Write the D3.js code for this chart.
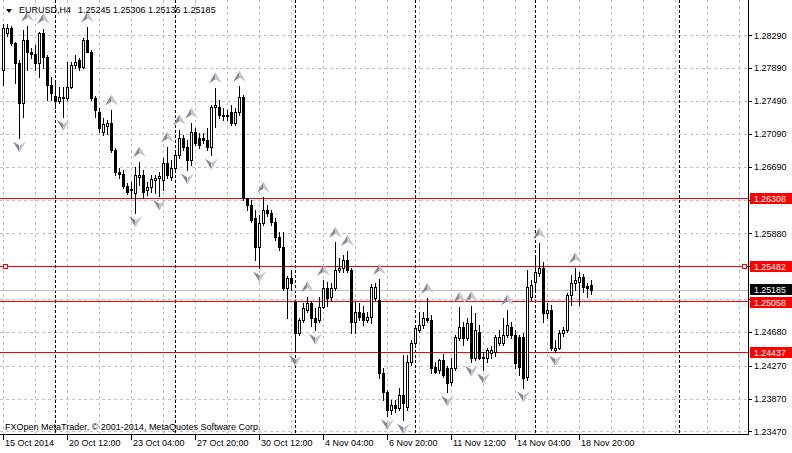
<!DOCTYPE html>
<html><head><meta charset="utf-8">
<script src="https://cdn.jsdelivr.net/npm/d3@7"></script>
<style>body{margin:0;background:#fff}svg{display:block}</style>
</head><body>
<svg id="c" width="792" height="453"></svg>
<script>
const symbol = "EURUSD,H4";
const open = [1.2787,1.2832,1.2838,1.2820,1.2795,1.2747,1.2823,1.2808,1.2806,1.2795,
1.2832,1.2803,1.2769,1.2755,1.2749,1.2754,1.2753,1.2766,1.2793,1.2799,
1.2790,1.2823,1.2809,1.2753,1.2736,1.2711,1.2718,1.2722,1.2689,1.2663,
1.2660,1.2646,1.2641,1.2637,1.2657,1.2659,1.2641,1.2644,1.2653,1.2655,
1.2653,1.2674,1.2657,1.2668,1.2683,1.2704,1.2693,1.2677,1.2711,1.2704,
1.2704,1.2702,1.2693,1.2742,1.2742,1.2732,1.2731,1.2736,1.2722,1.2736,
1.2754,1.2631,1.2622,1.2607,1.2571,1.2601,1.2616,1.2613,1.2602,1.2584,
1.2571,1.2521,1.2534,1.2504,1.2467,1.2483,1.2495,1.2503,1.2485,1.2483,
1.2498,1.2521,1.2511,1.2521,1.2543,1.2546,1.2556,1.2543,1.2480,1.2492,
1.2491,1.2483,1.2486,1.2509,1.2507,1.2418,1.2395,1.2373,1.2379,1.2375,
1.2391,1.2377,1.2431,1.2455,1.2470,1.2476,1.2485,1.2483,1.2425,1.2422,
1.2434,1.2424,1.2407,1.2424,1.2461,1.2474,1.2461,1.2479,1.2436,1.2468,
1.2437,1.2436,1.2442,1.2444,1.2455,1.2455,1.2464,1.2474,1.2464,1.2462,
1.2462,1.2413,1.2511,1.2529,1.2540,1.2546,1.2491,1.2495,1.2446,1.2449,
1.2467,1.2470,1.2513,1.2528,1.2529,1.2535,1.2524,1.25245];
const high = [1.2843,1.2843,1.2840,1.2821,1.2799,1.2835,1.2840,1.2814,1.2817,1.2833,
1.2837,1.2805,1.2778,1.2771,1.2766,1.2766,1.2797,1.2797,1.2805,1.2801,
1.2826,1.2839,1.2811,1.2755,1.2741,1.2728,1.2726,1.2738,1.2692,1.2668,
1.2665,1.2649,1.2651,1.2669,1.2675,1.2665,1.2651,1.2659,1.2659,1.2663,
1.2680,1.2693,1.2677,1.2689,1.2714,1.2708,1.2702,1.2722,1.2716,1.2710,
1.2710,1.2716,1.2744,1.2765,1.2750,1.2741,1.2738,1.2744,1.2741,1.2767,
1.2756,1.2631,1.2629,1.2616,1.2610,1.2632,1.2622,1.2616,1.2607,1.2590,
1.2590,1.2536,1.2543,1.2507,1.2485,1.2503,1.2511,1.2506,1.2497,1.2511,
1.2531,1.2529,1.2528,1.2577,1.2558,1.2562,1.2567,1.2546,1.2504,1.2503,
1.2500,1.2492,1.2526,1.2528,1.2532,1.2424,1.2397,1.2385,1.2385,1.2400,
1.2440,1.2440,1.2458,1.2476,1.2492,1.2492,1.2509,1.2489,1.2431,1.2435,
1.2441,1.2427,1.2436,1.2464,1.2498,1.2480,1.2485,1.2499,1.2491,1.2476,
1.2444,1.2449,1.2451,1.2464,1.2470,1.2485,1.2495,1.2480,1.2470,1.2464,
1.2467,1.2543,1.2531,1.2558,1.2576,1.2553,1.2503,1.2501,1.2458,1.2470,
1.2474,1.2515,1.2537,1.2546,1.2541,1.2538,1.2528,1.25306];
const low = [1.2769,1.2828,1.2817,1.2771,1.2704,1.2730,1.2787,1.2801,1.2787,1.2778,
1.2789,1.2750,1.2750,1.2741,1.2747,1.2730,1.2750,1.2765,1.2789,1.2787,
1.2789,1.2808,1.2750,1.2730,1.2711,1.2708,1.2709,1.2687,1.2659,1.2655,
1.2643,1.2636,1.2631,1.2613,1.2647,1.2631,1.2635,1.2638,1.2637,1.2633,
1.2641,1.2655,1.2653,1.2663,1.2680,1.2689,1.2665,1.2671,1.2696,1.2692,
1.2698,1.2689,1.2683,1.2717,1.2728,1.2726,1.2726,1.2720,1.2720,1.2732,
1.2629,1.2616,1.2602,1.2556,1.2546,1.2598,1.2609,1.2598,1.2580,1.2568,
1.2519,1.2485,1.2519,1.2444,1.2464,1.2480,1.2492,1.2475,1.2470,1.2480,
1.2497,1.2500,1.2507,1.2519,1.2541,1.2541,1.2541,1.2467,1.2467,1.2483,
1.2476,1.2480,1.2479,1.2507,1.2412,1.2385,1.2366,1.2368,1.2371,1.2373,
1.2361,1.2373,1.2428,1.2452,1.2468,1.2473,1.2480,1.2418,1.2418,1.2418,
1.2413,1.2395,1.2403,1.2422,1.2458,1.2452,1.2458,1.2431,1.2434,1.2435,
1.2422,1.2431,1.2436,1.2439,1.2452,1.2452,1.2462,1.2461,1.2424,1.2416,
1.2400,1.2410,1.2507,1.2519,1.2536,1.2480,1.2485,1.2446,1.2444,1.2447,
1.2463,1.2468,1.2501,1.2519,1.2501,1.2517,1.2511,1.25136];
const close = [1.2838,1.2838,1.2820,1.2795,1.2747,1.2823,1.2808,1.2806,1.2795,1.2832,
1.2803,1.2769,1.2759,1.2749,1.2754,1.2753,1.2766,1.2793,1.2797,1.2790,
1.2823,1.2809,1.2753,1.2738,1.2716,1.2721,1.2722,1.2689,1.2663,1.2660,
1.2646,1.2638,1.2642,1.2659,1.2659,1.2638,1.2644,1.2654,1.2655,1.2658,
1.2674,1.2659,1.2668,1.2683,1.2704,1.2693,1.2677,1.2711,1.2698,1.2696,
1.2702,1.2693,1.2742,1.2744,1.2732,1.2731,1.2732,1.2722,1.2736,1.2754,
1.2631,1.2622,1.2604,1.2571,1.2601,1.2616,1.2613,1.2602,1.2584,1.2571,
1.2521,1.2534,1.2528,1.2467,1.2483,1.2497,1.2503,1.2485,1.2480,1.2498,
1.2521,1.2509,1.2521,1.2543,1.2546,1.2556,1.2543,1.2480,1.2492,1.2486,
1.2483,1.2486,1.2523,1.2523,1.2418,1.2395,1.2373,1.2379,1.2375,1.2391,
1.2381,1.2431,1.2455,1.2473,1.2476,1.2485,1.2483,1.2424,1.2419,1.2434,
1.2416,1.2406,1.2424,1.2462,1.2474,1.2461,1.2479,1.2436,1.2470,1.2436,
1.2436,1.2446,1.2446,1.2462,1.2462,1.2464,1.2476,1.2464,1.2430,1.2425,
1.2412,1.2523,1.2525,1.2541,1.2546,1.2491,1.2495,1.2449,1.2449,1.2467,
1.2470,1.2513,1.2528,1.2531,1.2535,1.2523,1.2521,1.25185];

const upFractals = [6,10,21,27,34,41,44,47,53,59,65,76,80,83,86,94,106,114,117,126,134,143];
const downFractals = [4,15,33,39,46,52,64,73,78,96,100,111,117,120,130,138];

const tickValues = [1.2829,1.2789,1.2749,1.2709,1.2669,1.2629,1.2588,1.2548,1.2508,1.2468,1.2427,1.2387,1.2347];
const tickLabels = ["1.28290","1.27890","1.27490","1.27090","1.26690","1.26290","1.25880","1.25480","1.25080","1.24680","1.24270","1.23870","1.23470"];
const dateBars = [0,16,32,48,64,80,96,112,128,144];
const dateLabels = ["15 Oct 2014","20 Oct 12:00","23 Oct 04:00","27 Oct 20:00","30 Oct 12:00","4 Nov 04:00","6 Nov 20:00","11 Nov 12:00","14 Nov 04:00","18 Nov 20:00"];
const separatorBars = [13,43,73,103,133,169];
const levels = [1.26308,1.25482,1.25058,1.24437];
const levelLabels = ["1.26308","1.25482","1.25058","1.24437"];
const bid = 1.25185;
const bidLabel = "1.25185";
const copyright = "FXOpen MetaTrader, \u00a9 2001-2014, MetaQuotes Software Corp.";

const PR = 748, PB = 434;
const FONT = "'Liberation Sans', Arial, sans-serif";
const svg = d3.select("#c");
const x = d3.scaleLinear().domain([0, 1]).range([3, 7]);
const y = d3.scaleLinear().domain([1.2829, 1.2347]).range([35.2, 431.4]);
const py = v => Math.round(y(v)) + 0.5;
const cx = i => Math.round(x(i));

const g = svg.append("g").attr("shape-rendering", "crispEdges");

g.selectAll(".hg").data(tickValues).join("line")
  .attr("x1", 0).attr("x2", PR).attr("y1", d => py(d)).attr("y2", d => py(d))
  .attr("stroke", "#c0c0c0").attr("stroke-dasharray", "3,3");
const gridBars = d3.range(0, 186, 8);
g.selectAll(".vg").data(gridBars).join("line")
  .attr("x1", d => cx(d) + 0.5).attr("x2", d => cx(d) + 0.5).attr("y1", 0).attr("y2", PB)
  .attr("stroke", "#c0c0c0").attr("stroke-dasharray", "3,3");
g.selectAll(".sep").data(separatorBars).join("line")
  .attr("x1", d => cx(d) + 0.5).attr("x2", d => cx(d) + 0.5).attr("y1", 0).attr("y2", PB)
  .attr("stroke", "#000").attr("stroke-dasharray", "3,2");

g.selectAll(".lvl").data(levels).join("line")
  .attr("x1", 0).attr("x2", PR).attr("y1", d => py(d)).attr("y2", d => py(d))
  .attr("stroke", "#ff0000");
g.append("line").attr("x1", 0).attr("x2", PR).attr("y1", py(bid)).attr("y2", py(bid))
  .attr("stroke", "#c0c0c0");

const bars = d3.range(open.length);
g.selectAll(".wick").data(bars).join("line")
  .attr("x1", i => cx(i) + 0.5).attr("x2", i => cx(i) + 0.5)
  .attr("y1", i => Math.round(y(high[i]))).attr("y2", i => Math.round(y(low[i])) + 1)
  .attr("stroke", "#000");
bars.forEach(i => {
  const top = Math.round(y(Math.max(open[i], close[i])));
  const bot = Math.round(y(Math.min(open[i], close[i])));
  if (close[i] > open[i]) {
    g.append("rect").attr("x", cx(i) - 0.5).attr("y", top + 0.5)
      .attr("width", 2).attr("height", Math.max(0, bot - top))
      .attr("fill", "#fff").attr("stroke", "#000");
  } else {
    g.append("rect").attr("x", cx(i) - 1).attr("y", top)
      .attr("width", 3).attr("height", Math.max(1, bot - top + 1))
      .attr("fill", "#000");
  }
});

const ag = svg.append("g");
function arrow(xc, yc, up) {
  const s = up ? 1 : -1;
  ag.append("path").attr("d", `M${xc},${yc - 5.5*s} L${xc - 6.5},${yc + 5.5*s} L${xc},${yc + 1.5*s} Z`).attr("fill", "#868a94");
  ag.append("path").attr("d", `M${xc},${yc - 5.5*s} L${xc + 6.5},${yc + 5.5*s} L${xc},${yc + 1.5*s} Z`).attr("fill", "#c4c7ce");
}
upFractals.forEach(i => arrow(cx(i) + 0.5, y(high[i]) - 10, true));
downFractals.forEach(i => arrow(cx(i) + 0.5, y(low[i]) + 9, false));

const selY = py(levels[1]);
g.append("rect").attr("x", 3.5).attr("y", selY - 2).attr("width", 4).attr("height", 4).attr("fill", "#fff").attr("stroke", "#ff0000");
g.append("rect").attr("x", PR - 5.5).attr("y", selY - 2).attr("width", 4).attr("height", 4).attr("fill", "#fff").attr("stroke", "#ff0000");

g.append("line").attr("x1", 0).attr("x2", PR + 1).attr("y1", PB + 0.5).attr("y2", PB + 0.5).attr("stroke", "#000");
g.append("line").attr("x1", PR + 0.5).attr("x2", PR + 0.5).attr("y1", 0).attr("y2", PB + 1).attr("stroke", "#000");

// right axis: tick labels that are not covered by a price label
const labelled = levels.concat([bid]).map(v => y(v));
const visibleTicks = tickValues.map((v, i) => ({v, t: tickLabels[i]}))
  .filter(d => labelled.every(ly => Math.abs(ly - y(d.v)) > 8));
g.selectAll(".rt").data(tickValues).join("line")
  .attr("x1", PR + 1).attr("x2", PR + 4).attr("y1", d => py(d)).attr("y2", d => py(d)).attr("stroke", "#000");
svg.selectAll(".rl").data(visibleTicks).join("text")
  .attr("x", PR + 6).attr("y", d => y(d.v) + 3.3).text(d => d.t)
  .attr("font-family", FONT).attr("font-size", 9).attr("fill", "#000");

function priceLabel(v, txt, col, dy) {
  const yc = Math.round(y(v)) + dy;
  g.append("rect").attr("x", PR + 2).attr("y", yc - 5).attr("width", 792 - PR - 2).attr("height", 11).attr("fill", col);
  svg.append("text").attr("x", PR + 6).attr("y", yc + 3.5).text(txt)
    .attr("font-family", FONT).attr("font-size", 8.8).attr("fill", "#fff");
}
levels.forEach((v, i) => priceLabel(v, levelLabels[i], "#ff0000", i === 2 ? 1 : 0));
priceLabel(bid, bidLabel, "#000", -1);

g.selectAll(".bt").data(dateBars).join("line")
  .attr("x1", d => cx(d) + 0.5).attr("x2", d => cx(d) + 0.5).attr("y1", PB + 1).attr("y2", PB + 6).attr("stroke", "#000");
svg.selectAll(".bl").data(dateBars).join("text")
  .attr("x", d => cx(d) + 2).attr("y", 446).text((d, i) => dateLabels[i])
  .attr("font-family", FONT).attr("font-size", 9).attr("fill", "#000");

svg.append("path").attr("d", "M6,9 L12,9 L9,13 Z").attr("fill", "#000");
svg.append("text").attr("x", 19).attr("y", 13).text(symbol)
  .attr("font-family", FONT).attr("font-size", 9).attr("fill", "#000");
svg.append("text").attr("x", 78).attr("y", 13)
  .text([open[open.length-1], high[high.length-1], low[low.length-1], close[close.length-1]].map(v => v.toFixed(5)).join(" "))
  .attr("font-family", FONT).attr("font-size", 9).attr("fill", "#000");
svg.append("text").attr("x", 5).attr("y", 430).text(copyright)
  .attr("font-family", FONT).attr("font-size", 9).attr("fill", "#000");
</script>
</body></html>
